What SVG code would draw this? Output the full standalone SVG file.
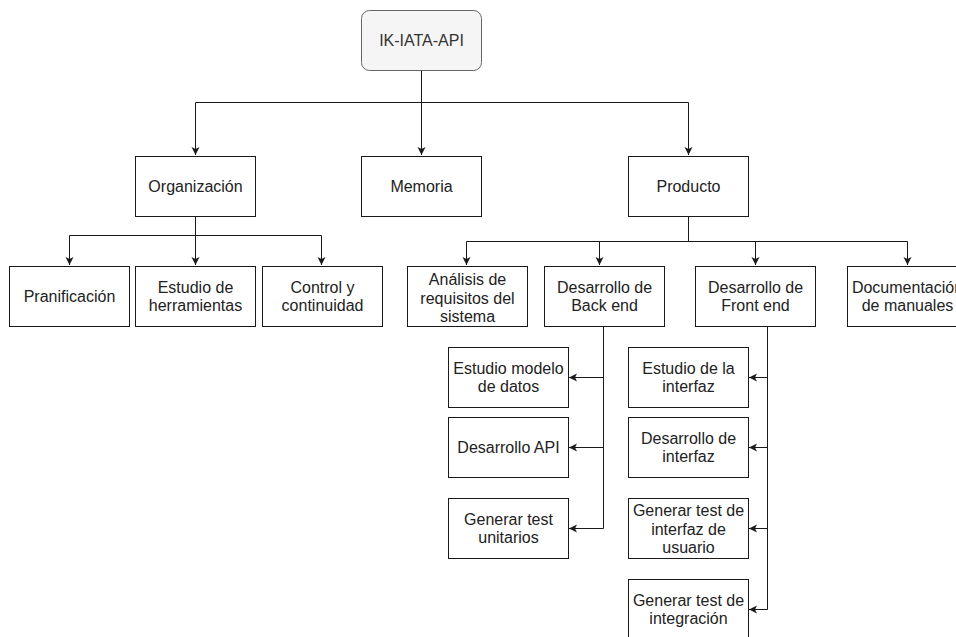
<svg xmlns="http://www.w3.org/2000/svg" width="956" height="637" viewBox="0 0 956 637">
  <style>
    .box { fill: #ffffff; stroke: #1a1a1a; stroke-width: 1; }
    .root { fill: #f5f5f5; stroke: #666666; stroke-width: 1; }
    .lbl { font-family: "Liberation Sans", Arial, sans-serif; font-size: 16px; fill: #222222; text-anchor: middle; }
    .edge { fill: none; stroke: #1a1a1a; stroke-width: 1; marker-end: url(#arrow); }
  </style>
  <defs>
    <marker id="arrow" markerUnits="userSpaceOnUse" markerWidth="10" markerHeight="10" refX="8" refY="4" orient="auto">
      <path d="M0,0 L8,4 L0,8 L2,4 Z" fill="#1a1a1a"/>
    </marker>
  </defs>
  <rect width="956" height="637" fill="#ffffff"/>

  <!-- connectors -->
  <g id="connectors">
    <path class="edge" d="M421.5,70 V102.5 H195.5 V155"/>
    <path class="edge" d="M421.5,70 V155"/>
    <path class="edge" d="M421.5,70 V102.5 H688.5 V155"/>

    <path class="edge" d="M195.5,216 V235.5 H69.5 V265"/>
    <path class="edge" d="M195.5,216 V265"/>
    <path class="edge" d="M195.5,216 V235.5 H321.5 V265"/>

    <path class="edge" d="M688.5,216 V241.5 H466.5 V265"/>
    <path class="edge" d="M688.5,216 V241.5 H599.5 V265"/>
    <path class="edge" d="M688.5,216 V241.5 H755.5 V265"/>
    <path class="edge" d="M688.5,216 V241.5 H907.5 V265"/>

    <path class="edge" d="M603.5,326 V377.5 H569"/>
    <path class="edge" d="M603.5,326 V447.5 H569"/>
    <path class="edge" d="M603.5,326 V528.5 H569"/>

    <path class="edge" d="M767.5,326 V377.5 H749"/>
    <path class="edge" d="M767.5,326 V447.5 H749"/>
    <path class="edge" d="M767.5,326 V528.5 H749"/>
    <path class="edge" d="M767.5,326 V609.5 H749"/>
  </g>

  <!-- root -->
  <g id="n-root">
    <rect class="root" x="361.5" y="10.5" width="120" height="60" rx="8" ry="8"/>
    <text class="lbl" x="421.5" y="46" style="fill:#333333">IK-IATA-API</text>
  </g>

  <!-- second level -->
  <g id="n-organizacion">
    <rect class="box" x="135.5" y="156.5" width="120" height="60"/>
    <text class="lbl" x="195.5" y="192">Organización</text>
  </g>
  <g id="n-memoria">
    <rect class="box" x="361.5" y="156.5" width="120" height="60"/>
    <text class="lbl" x="421.5" y="192">Memoria</text>
  </g>
  <g id="n-producto">
    <rect class="box" x="628.5" y="156.5" width="120" height="60"/>
    <text class="lbl" x="688.5" y="192">Producto</text>
  </g>

  <!-- Organización children -->
  <g id="n-pranificacion">
    <rect class="box" x="9.5" y="266.5" width="120" height="60"/>
    <text class="lbl" x="69.5" y="302">Pranificación</text>
  </g>
  <g id="n-estudio-herramientas">
    <rect class="box" x="135.5" y="266.5" width="120" height="60"/>
    <text class="lbl" x="195.5" y="293">Estudio de</text>
    <text class="lbl" x="195.5" y="311">herramientas</text>
  </g>
  <g id="n-control">
    <rect class="box" x="262.5" y="266.5" width="120" height="60"/>
    <text class="lbl" x="322.5" y="293">Control y</text>
    <text class="lbl" x="322.5" y="311">continuidad</text>
  </g>

  <!-- Producto children -->
  <g id="n-analisis">
    <rect class="box" x="407.5" y="266.5" width="120" height="60"/>
    <text class="lbl" x="467.5" y="285">Análisis de</text>
    <text class="lbl" x="467.5" y="303.5">requisitos del</text>
    <text class="lbl" x="467.5" y="322">sistema</text>
  </g>
  <g id="n-backend">
    <rect class="box" x="544.5" y="266.5" width="120" height="60"/>
    <text class="lbl" x="604.5" y="293">Desarrollo de</text>
    <text class="lbl" x="604.5" y="311">Back end</text>
  </g>
  <g id="n-frontend">
    <rect class="box" x="695.5" y="266.5" width="120" height="60"/>
    <text class="lbl" x="755.5" y="293">Desarrollo de</text>
    <text class="lbl" x="755.5" y="311">Front end</text>
  </g>
  <g id="n-documentacion">
    <rect class="box" x="847.5" y="266.5" width="120" height="60"/>
    <text class="lbl" x="907.5" y="293">Documentación</text>
    <text class="lbl" x="907.5" y="311">de manuales</text>
  </g>

  <!-- Back end children -->
  <g id="n-modelo-datos">
    <rect class="box" x="448.5" y="347.5" width="120" height="60"/>
    <text class="lbl" x="508.5" y="374">Estudio modelo</text>
    <text class="lbl" x="508.5" y="392">de datos</text>
  </g>
  <g id="n-desarrollo-api">
    <rect class="box" x="448.5" y="417.5" width="120" height="60"/>
    <text class="lbl" x="508.5" y="453">Desarrollo API</text>
  </g>
  <g id="n-test-unitarios">
    <rect class="box" x="448.5" y="498.5" width="120" height="60"/>
    <text class="lbl" x="508.5" y="525">Generar test</text>
    <text class="lbl" x="508.5" y="543">unitarios</text>
  </g>

  <!-- Front end children -->
  <g id="n-estudio-interfaz">
    <rect class="box" x="628.5" y="347.5" width="120" height="60"/>
    <text class="lbl" x="688.5" y="374">Estudio de la</text>
    <text class="lbl" x="688.5" y="392">interfaz</text>
  </g>
  <g id="n-desarrollo-interfaz">
    <rect class="box" x="628.5" y="417.5" width="120" height="60"/>
    <text class="lbl" x="688.5" y="444">Desarrollo de</text>
    <text class="lbl" x="688.5" y="462">interfaz</text>
  </g>
  <g id="n-test-interfaz">
    <rect class="box" x="628.5" y="498.5" width="120" height="60"/>
    <text class="lbl" x="688.5" y="516">Generar test de</text>
    <text class="lbl" x="688.5" y="534.5">interfaz de</text>
    <text class="lbl" x="688.5" y="553">usuario</text>
  </g>
  <g id="n-test-integracion">
    <rect class="box" x="628.5" y="579.5" width="120" height="60"/>
    <text class="lbl" x="688.5" y="606">Generar test de</text>
    <text class="lbl" x="688.5" y="624">integración</text>
  </g>
</svg>
